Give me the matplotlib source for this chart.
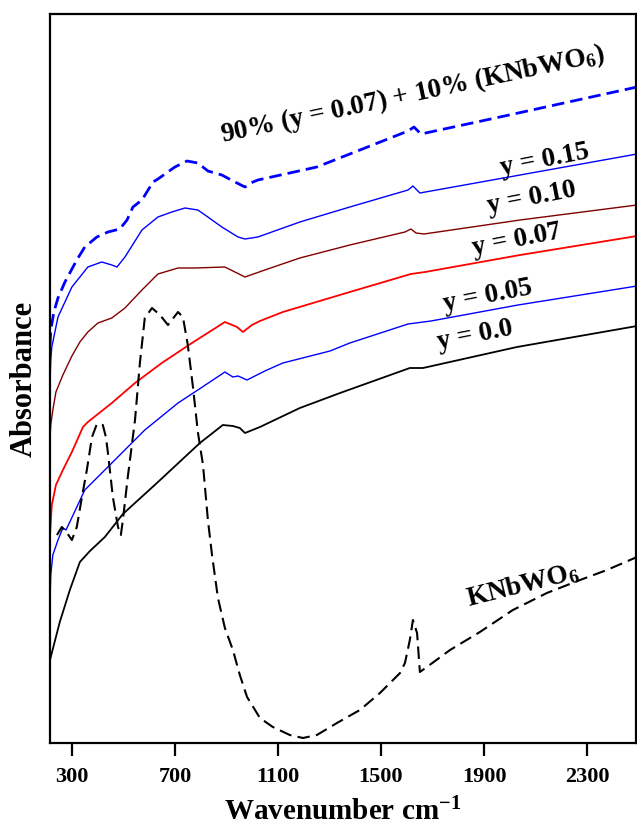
import matplotlib
matplotlib.use("Agg")
import matplotlib.pyplot as plt

plt.rcParams['font.family'] = ['Liberation Serif', 'DejaVu Serif']
plt.rcParams['font.weight'] = 'bold'
plt.rcParams['mathtext.fontset'] = 'custom'
plt.rcParams['mathtext.rm'] = 'Liberation Serif:bold'
plt.rcParams['mathtext.it'] = 'Liberation Serif:bold'
plt.rcParams['mathtext.bf'] = 'Liberation Serif:bold'
plt.rcParams['mathtext.default'] = 'rm'

# ---- data (wavenumber, absorbance a.u.) ----
wn_y000 = [215, 253, 292, 331, 370, 428, 498, 630, 797, 886, 925, 952, 972, 1030,
           1185, 1341, 1612, 1663, 2028, 2494]
ab_y000 = [0.83, 1.21, 1.53, 1.81, 1.92, 2.06, 2.29, 2.60, 3.00, 3.18, 3.17, 3.15, 3.10, 3.16,
           3.35, 3.50, 3.75, 3.75, 3.96, 4.17]

wn_y005 = [215, 218, 226, 246, 265, 277, 292, 350, 455, 583, 712, 789, 894, 925, 945, 980,
           1049, 1119, 1302, 1379, 1605, 1694, 2032, 2494]
ab_y005 = [1.43, 1.68, 1.88, 2.03, 2.15, 2.13, 2.21, 2.53, 2.80, 3.13, 3.40, 3.53, 3.71, 3.66,
           3.67, 3.63, 3.72, 3.80, 3.92, 4.00, 4.19, 4.22, 4.38, 4.57]

wn_y007 = [215, 222, 238, 265, 300, 343, 362, 455, 545, 649, 766, 894, 941, 964, 999, 1030,
           1119, 1379, 1616, 1671, 2040, 2494]
ab_y007 = [2.08, 2.38, 2.58, 2.73, 2.91, 3.16, 3.21, 3.40, 3.60, 3.80, 4.00, 4.21, 4.16, 4.11,
           4.18, 4.22, 4.31, 4.51, 4.69, 4.71, 4.88, 5.07]

wn_y010 = [215, 218, 226, 238, 265, 300, 331, 362, 401, 455, 506, 572, 634, 712, 778, 894,
           933, 972, 1049, 1185, 1379, 1593, 1616, 1636, 1667, 2040, 2494]
ab_y010 = [3.05, 3.18, 3.33, 3.51, 3.68, 3.87, 4.01, 4.11, 4.20, 4.25, 4.35, 4.53, 4.69, 4.75,
           4.75, 4.76, 4.71, 4.66, 4.73, 4.85, 4.98, 5.11, 5.14, 5.10, 5.09, 5.23, 5.38]

wn_y015 = [215, 218, 222, 246, 300, 362, 416, 455, 475, 506, 572, 634, 688, 739, 789, 828,
           882, 945, 972, 1022, 1185, 1379, 1605, 1624, 1651, 2040, 2494]
ab_y015 = [3.61, 3.83, 3.96, 4.26, 4.56, 4.76, 4.81, 4.78, 4.76, 4.86, 5.13, 5.26, 5.31, 5.35,
           5.33, 5.26, 5.16, 5.06, 5.04, 5.06, 5.21, 5.36, 5.53, 5.57, 5.50, 5.68, 5.89]

wn_mix = [215, 218, 230, 246, 273, 319, 350, 397, 440, 486, 514, 537, 572, 615, 634, 700,
          747, 789, 828, 882, 933, 972, 1003, 1022, 1251, 1605, 1628, 1655, 1962, 2494]
ab_mix = [3.98, 4.13, 4.31, 4.45, 4.61, 4.83, 4.96, 5.06, 5.11, 5.14, 5.23, 5.36, 5.43, 5.61,
          5.64, 5.76, 5.82, 5.80, 5.72, 5.68, 5.61, 5.56, 5.61, 5.63, 5.76, 6.12, 6.16, 6.09,
          6.26, 6.56]

wn_knbwo6 = [242, 261, 281, 300, 319, 339, 358, 378, 397, 420, 432, 440, 459, 479, 490, 498,
             517, 545, 564, 583, 611, 642, 673, 712, 731, 750, 770, 789, 809, 828, 844, 867,
             894, 925, 952, 980, 1030, 1080, 1146, 1197, 1251, 1329, 1418, 1496, 1574, 1593,
             1612, 1624, 1640, 1651, 1678, 1768, 1884, 2012, 2144, 2273, 2377, 2494]
ab_knbwo6 = [2.08, 2.16, 2.10, 2.03, 2.16, 2.46, 2.73, 3.06, 3.19, 3.18, 3.06, 2.90, 2.46, 2.16,
             2.08, 2.23, 2.66, 3.23, 3.80, 4.25, 4.35, 4.28, 4.18, 4.31, 4.26, 3.98, 3.56, 3.11,
             2.78, 2.23, 1.88, 1.45, 1.15, 0.93, 0.68, 0.46, 0.25, 0.16, 0.08, 0.05, 0.08, 0.20,
             0.33, 0.50, 0.70, 0.80, 1.03, 1.23, 1.10, 0.71, 0.76, 0.93, 1.11, 1.33, 1.50, 1.63,
             1.73, 1.86]

xticks = [300, 700, 1100, 1500, 1900, 2300]

labels = ["y = 0.0", "y = 0.05", "y = 0.07", "y = 0.10", "y = 0.15",
          "90% (y = 0.07) + 10% (KNbWO$_6$)", "KNbWO$_6$"]

# ---- figure ----
fig = plt.figure(figsize=(6.37, 8.31), dpi=100)
ax = fig.add_axes([50/637, 88/831, 586/637, 729/831])

ax.plot(wn_y000, ab_y000, color='black', lw=1.3)
ax.plot(wn_y005, ab_y005, color='#0000ff', lw=1.0)
ax.plot(wn_y007, ab_y007, color='#ff0000', lw=1.3)
ax.plot(wn_y010, ab_y010, color='#800000', lw=1.0)
ax.plot(wn_y015, ab_y015, color='#0000ff', lw=1.0)
ax.plot(wn_mix, ab_mix, color='#0000ff', lw=2.0, ls=(0, (4.5, 2.2)))
ax.plot(wn_knbwo6, ab_knbwo6, color='black', lw=1.5, ls=(0, (6, 3)))

ax.set_xlim(215, 2490)
ax.set_ylim(0, 7.29)
ax.set_xticks(xticks)
ax.set_xticklabels([str(t) for t in xticks])
ax.set_yticks([])
ax.tick_params(axis='x', direction='out', length=9, width=1.6, labelsize=16, pad=8)
for s in ax.spines.values():
    s.set_linewidth(1.6)

ax.set_xlabel(r'Wavenumber cm$^{-1}$', fontsize=21, fontweight='bold', labelpad=8)
ax.set_ylabel('Absorbance', fontsize=22, fontweight='bold', labelpad=8)

tk = dict(fontsize=19.5, fontweight='bold', ha='center', va='center')
ax.text(1865, 4.08, labels[0], rotation=11, **tk)
ax.text(1915, 4.47, labels[1], rotation=11, **tk)
ax.text(2028, 5.03, labels[2], rotation=11, **tk)
ax.text(2086, 5.45, labels[3], rotation=11, **tk)
ax.text(2137, 5.83, labels[4], rotation=11, **tk)
ax.text(1624, 6.48, labels[5], rotation=12, **tk)
ax.text(2051, 1.58, labels[6], rotation=14, **tk)

fig.savefig('out.png', dpi=100)
